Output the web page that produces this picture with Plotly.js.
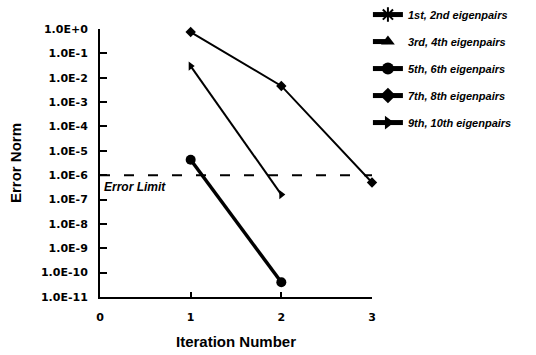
<!DOCTYPE html>
<html><head><meta charset="utf-8">
<script src="https://cdn.plot.ly/plotly-3.0.1.min.js"></script>
<style>body{margin:0;background:#fff}#c{width:536px;height:355px}</style>
</head><body><div id="c"></div>
<script>
const iterations = [1, 2, 3];
const pairs12 = [null];
const pairs34 = [null];
const pairs56 = [4.3e-6, 4.0e-11];
const pairs78 = [0.75, 4.6e-3, 5.0e-7];
const pairs910 = [3.0e-2, 1.6e-7];
const errorLimit = 1.0e-6;
const limitX = [0, 3];
const yTickVals = [1e0,1e-1,1e-2,1e-3,1e-4,1e-5,1e-6,1e-7,1e-8,1e-9,1e-10,1e-11];
const yTickText = ["1.0E+0","1.0E-1","1.0E-2","1.0E-3","1.0E-4","1.0E-5","1.0E-6","1.0E-7","1.0E-8","1.0E-9","1.0E-10","1.0E-11"];
const names = ["1st, 2nd eigenpairs","3rd, 4th eigenpairs","5th, 6th eigenpairs","7th, 8th eigenpairs","9th, 10th eigenpairs"];

const blk = '#000';
function tr(y, name, sym, size, w, dash, g){
  return {x: iterations.slice(0, y.length), y: y, name: name, mode: 'lines+markers', type: 'scatter',
    line: {color: blk, width: w, dash: dash}, marker: {symbol: sym, size: size, color: blk,
    line: {color: blk, width: sym === 'asterisk' ? 2 : 0}}, legendgroup: g, showlegend: true, cliponaxis: false};
}
const data = [
  tr(pairs12, names[0], 'asterisk', 10, 2, 'solid', 'a'),
  tr(pairs34, names[1], 'triangle-up', 10, 2, 'dash', 'b'),
  tr(pairs56, names[2], 'circle', 10, 3.5, 'solid', 'c'),
  tr(pairs78, names[3], 'diamond', 8, 2, 'solid', 'd'),
  tr(pairs910, names[4], 'triangle-right', 8, 2, 'solid', 'e'),
  {x: limitX, y: [errorLimit, errorLimit], mode: 'lines', type: 'scatter', showlegend: false,
   line: {color: blk, width: 2, dash: '10px,14px'}, hoverinfo: 'skip'}
];
const tickFont = {family: 'DejaVu Sans, sans-serif', color: blk, size: 11, weight: 700};
const titleFont = {family: 'Arial, Liberation Sans, sans-serif', size: 15, color: blk, weight: 700};
const layout = {
  width: 536, height: 355,
  margin: {l: 100, r: 164, t: 29, b: 58, autoexpand: false},
  paper_bgcolor: '#fff', plot_bgcolor: '#fff',
  showlegend: true,
  legend: {x: 0.985, y: 1.108, xanchor: 'left', yanchor: 'top', tracegroupgap: 8, itemsizing: 'constant',
    font: {family: 'Arial, Liberation Sans, sans-serif', size: 11, color: blk, style: 'italic', weight: 700},
    bgcolor: 'rgba(0,0,0,0)'},
  xaxis: {range: [0, 3], tickvals: [0,1,2,3], ticktext: ['0','1','2','3'], ticks: 'inside', ticklen: 5, tickwidth: 2,
    tickcolor: blk, showline: true, linecolor: blk, linewidth: 2, showgrid: false, zeroline: false,
    ticklabelstandoff: 9,
    tickfont: tickFont, title: {text: 'Iteration Number', font: titleFont, standoff: 13}},
  yaxis: {type: 'log', range: [-11, 0], tickvals: yTickVals, ticktext: yTickText, ticks: 'inside', ticklen: 7, tickwidth: 2,
    tickcolor: blk, showline: true, linecolor: blk, linewidth: 2, showgrid: false, zeroline: false,
    ticklabelstandoff: 8,
    tickfont: tickFont, title: {text: 'Error Norm', font: titleFont, standoff: 16}},
  annotations: [{x: 0.02, y: Math.log10(errorLimit), xref: 'x', yref: 'y', text: 'Error Limit', showarrow: false,
    xanchor: 'left', yanchor: 'top', yshift: -3,
    font: {family: 'Arial, Liberation Sans, sans-serif', size: 12, color: blk, style: 'italic', weight: 700}}]
};
Plotly.newPlot('c', data, layout, {staticPlot: true});
</script></body></html>
